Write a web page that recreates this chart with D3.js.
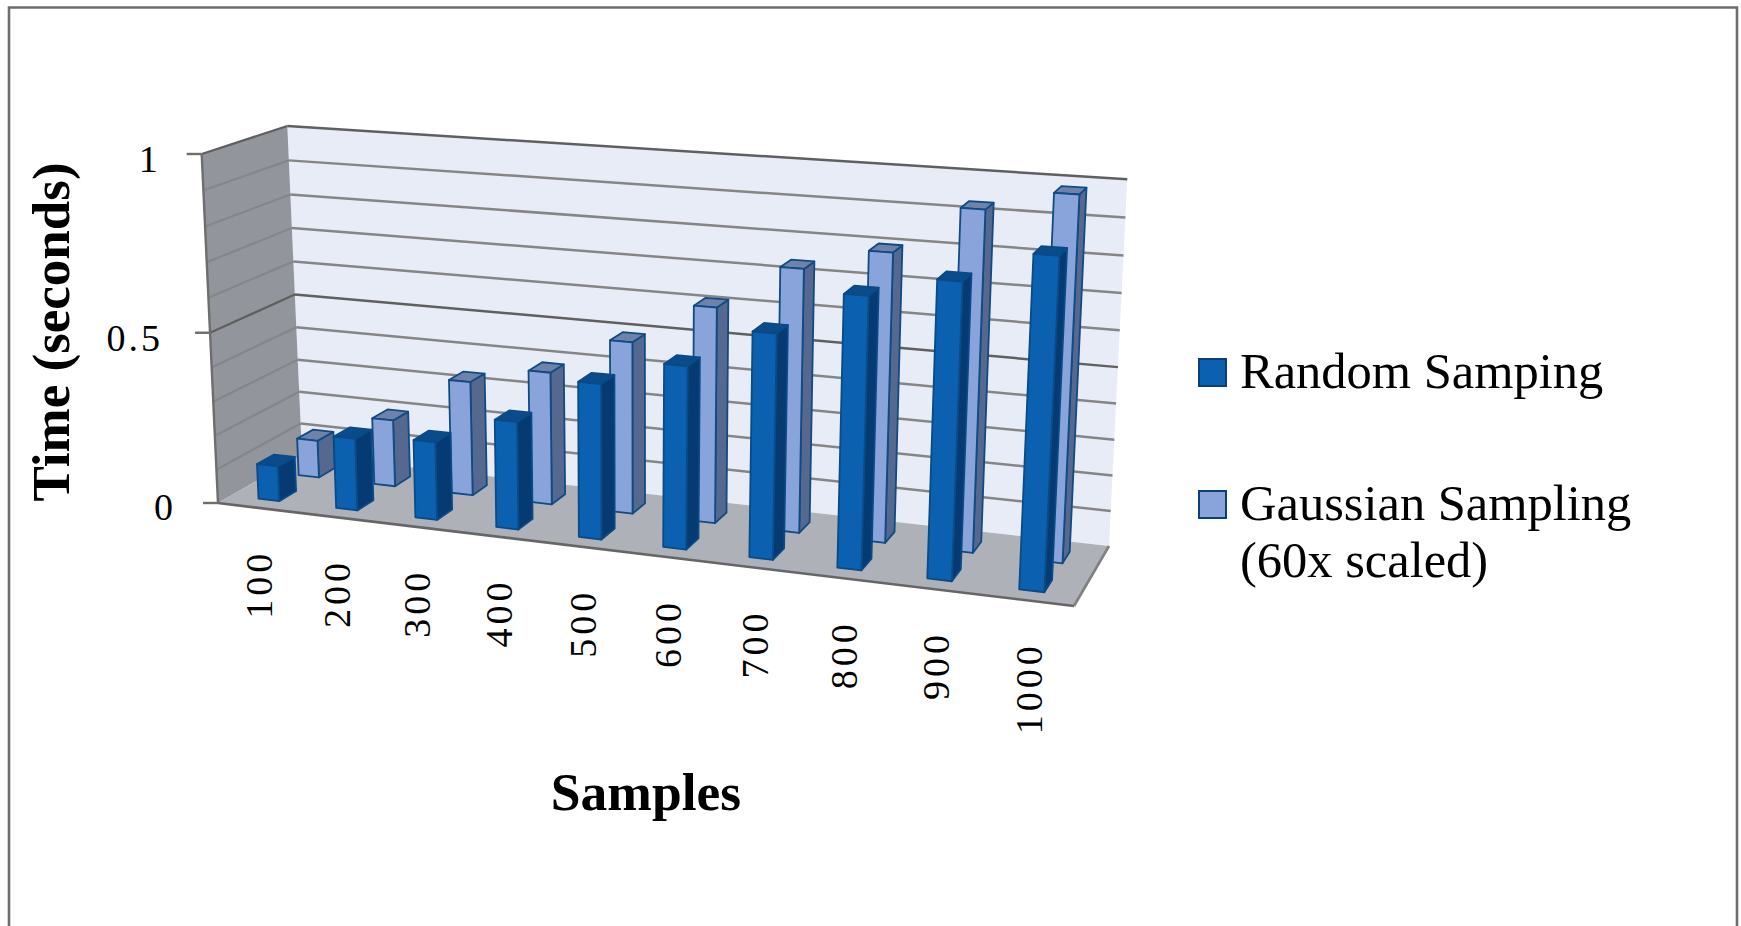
<!DOCTYPE html>
<html><head><meta charset="utf-8">
<style>html,body{margin:0;padding:0;background:#fff}svg{display:block}text{font-family:"Liberation Serif",serif;fill:#000}</style>
<script src="https://cdn.jsdelivr.net/npm/d3@7"></script></head><body>
<svg id="c" width="1741" height="926"></svg>
<script>
const categories=["100","200","300","400","500","600","700","800","900","1000"];
const randomSampling=[0.104,0.211,0.226,0.309,0.439,0.51,0.619,0.738,0.794,0.877];
const gaussianSampling=[0.113,0.20,0.338,0.388,0.497,0.615,0.74,0.802,0.932,0.987];
const seriesNames=["Random Samping","Gaussian Sampling"];
const yTicks=[0,0.5,1];
const gridValues=d3.range(0,1.01,0.1);

// Projection set-up: unit box corners on screen
const floorQuad=[[218,503],[1074,606],[1109,546],[302,455]];
const topQuad=[[201.7,154],[1092.9,214.3],[1127.3,179.3],[287.3,126]];
function homog(q){
  const [p0,p1,p2,p3]=q;
  const sx=p0[0]-p1[0]+p2[0]-p3[0], sy=p0[1]-p1[1]+p2[1]-p3[1];
  const dx1=p1[0]-p2[0], dx2=p3[0]-p2[0], dy1=p1[1]-p2[1], dy2=p3[1]-p2[1];
  const den=dx1*dy2-dx2*dy1;
  const g=(sx*dy2-dx2*sy)/den, h=(dx1*sy-sx*dy1)/den;
  const a=p1[0]-p0[0]+g*p1[0], b=p3[0]-p0[0]+h*p3[0], c=p0[0];
  const d=p1[1]-p0[1]+g*p1[1], e=p3[1]-p0[1]+h*p3[1], f=p0[1];
  return (u,w)=>{const z=g*u+h*w+1;return [(a*u+b*w+c)/z,(d*u+e*w+f)/z];};
}
const fH=homog(floorQuad), tH=homog(topQuad);
const persp=0.05;
function project(u,v,w){
  const t=v/(1+persp*(1-v));
  const a=fH(u,w), b=tH(u,w);
  return [a[0]+(b[0]-a[0])*t, a[1]+(b[1]-a[1])*t];
}

const xBand=d3.scaleBand().domain(categories).range([0,1]);
const yVal=d3.scaleLinear().domain([0,1]).range([0,1]);
const barFrac=0.27, barShift=-0.001;
const depthRows=[[0.15,0.35],[0.63,0.83]];

const svg=d3.select("#c");
const poly=d3.line();
const face=(pts,fill,stroke,sw)=>svg.append("path").attr("d",poly(pts)+"Z").attr("fill",fill)
  .attr("stroke",stroke||"none").attr("stroke-width",sw||0).attr("stroke-linejoin","round");
const seg=(a,b,stroke,sw)=>svg.append("line").attr("x1",a[0]).attr("y1",a[1]).attr("x2",b[0]).attr("y2",b[1])
  .attr("stroke",stroke).attr("stroke-width",sw);

// frame
svg.append("path").attr("d","M9,926V7.5H1737V926").attr("fill","none").attr("stroke","#6e6e6e").attr("stroke-width",2.6);

// walls
face([project(0,0,1),project(1,0,1),project(1,1,1),project(0,1,1)],"#e8ecf7");
face([project(0,0,0),project(0,0,1),project(0,1,1),project(0,1,0)],"#92959c");
face([project(0,0,0),project(1,0,0),project(1,0,1),project(0,0,1)],"#afb1b9");

// grid
gridValues.forEach(g=>{
  const major=Math.abs(g*2-Math.round(g*2))<1e-6;
  const v=yVal(g);
  if(g>0.001){
    seg(project(0,v,1),project(1,v,1),major?"#5f5f5f":"#858585",2.5);
    seg(project(0,v,0),project(0,v,1),major?"#5f5f5f":"#85868a",2.2);
  }
});
seg(project(0,0,0),project(0,1,0),"#6e6e6e",2.4);
seg(project(0,0,0),project(1,0,0),"#666",2.6);
seg(project(1,0,0),project(1,0,1),"#808080",2.6);

// bars
const styles=[
 {front:"#0c60b0",side:"#063a72",top:"#0a4b8c",stroke:"#0a4a86"},
 {front:"#88a4da",side:"#55688f",top:"#6d83ab",stroke:"#124a82"}
];
function bar(cat,val,row,st){
  const c=xBand(cat)+xBand.bandwidth()/2+barShift, hw=xBand.bandwidth()*barFrac/2;
  const u0=c-hw,u1=c+hw,[w0,w1]=depthRows[row],v=yVal(val);
  face([project(u1,0,w0),project(u1,0,w1),project(u1,v,w1),project(u1,v,w0)],st.side,st.stroke,1.8);
  face([project(u0,v,w0),project(u1,v,w0),project(u1,v,w1),project(u0,v,w1)],st.top,st.stroke,1.8);
  face([project(u0,0,w0),project(u1,0,w0),project(u1,v,w0),project(u0,v,w0)],st.front,st.stroke,1.8);
}
categories.forEach((c,i)=>bar(c,gaussianSampling[i],1,styles[1]));
categories.forEach((c,i)=>bar(c,randomSampling[i],0,styles[0]));

// y axis
yTicks.forEach(t=>{
  const p=project(0,yVal(t),0);
  seg([p[0]-15,p[1]],p,"#6e6e6e",2.4);
  svg.append("text").attr("x",p[0]-(t===0.5?47:t===1?44:45)).attr("y",p[1]+(t===0?17:18))
    .attr("text-anchor","end").attr("font-size",38).attr("letter-spacing",t===0.5?3:0).text(String(t));
});
// x labels
categories.forEach(c=>{
  const p=project(xBand(c)+xBand.bandwidth()/2,0,0);
  svg.append("text").attr("transform",`translate(${p[0]+15},${p[1]+42}) rotate(-90)`)
    .attr("text-anchor","end").attr("font-size",38).attr("letter-spacing",4).text(c);
});
// titles
svg.append("text").attr("transform","translate(69,332) rotate(-90)").attr("text-anchor","middle")
  .attr("font-size",53).attr("font-weight","bold").text("Time (seconds)");
svg.append("text").attr("x",646).attr("y",810).attr("text-anchor","middle")
  .attr("font-size",53.5).attr("font-weight","bold").text("Samples");

// legend
const lg=[{y:359,lines:[seriesNames[0]],st:styles[0],base:[388]},
          {y:491,lines:[seriesNames[1],"(60x scaled)"],st:styles[1],base:[520,577]}];
lg.forEach(l=>{
  svg.append("rect").attr("x",1199).attr("y",l.y).attr("width",27).attr("height",27)
    .attr("fill",l.st.front).attr("stroke","#0a3f78").attr("stroke-width",2);
  l.lines.forEach((t,i)=>svg.append("text").attr("x",1240).attr("y",l.base[i]).attr("font-size",50.5).text(t));
});
</script></body></html>
